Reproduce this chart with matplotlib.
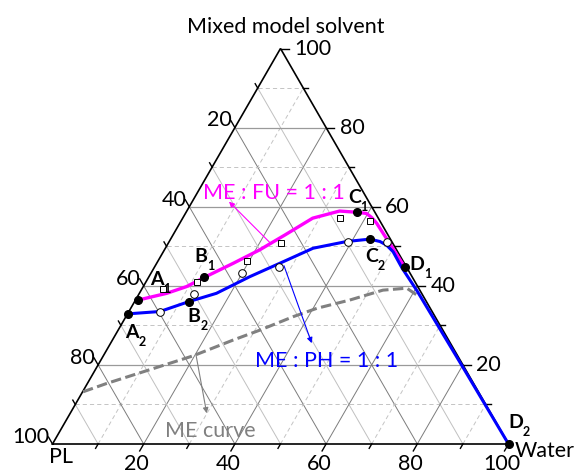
import numpy as np
import matplotlib
matplotlib.use('Agg')
import matplotlib.pyplot as plt

plt.rcParams['font.family'] = ['Lato', 'DejaVu Sans']
plt.rcParams['lines.scale_dashes'] = False

# ---- data: Water %, Mixed model solvent % (PL = 100 - Water - Mixed) ----
fu_curve_water = [0.6, 6.0, 9.5, 12.2, 16.8, 20.9, 24.5, 28.5, 33.5, 37.4, 39.7, 41.3, 43.2, 48.6, 54.9]
fu_curve_mixed = [36.4, 38.1, 39.8, 42.1, 45.7, 49.1, 52.8, 57.1, 58.9, 58.6, 58.3, 57.3, 55.8, 50.7, 44.7]

ph_curve_water = [0.0, 6.8, 11.9, 16.9, 22.1, 27.0, 32.4, 38.9, 43.7, 46.2, 48.1, 50.4, 54.4, 60.4, 80.0, 100.0]
ph_curve_mixed = [32.9, 33.5, 36.0, 38.1, 42.3, 45.7, 49.5, 51.2, 51.8, 51.2, 50.3, 48.6, 44.5, 38.9, 19.7, 0.0]

me_curve_water = [0.1, 4.2, 10.2, 19.7, 26.5, 31.1, 36.7, 40.8, 47.0, 53.0, 58.0, 61.0, 61.9]
me_curve_mixed = [13.2, 15.3, 18.0, 22.3, 26.3, 28.8, 32.2, 34.3, 36.4, 38.9, 39.4, 37.7, 36.9]

fu_exp_water = [4.7, 11.1, 19.4, 24.7, 34.4, 41.4]
fu_exp_mixed = [39.2, 41.0, 46.3, 50.9, 57.2, 56.5]
ph_exp_water = [6.9, 12.0, 19.9, 27.3, 39.2, 47.8]
ph_exp_mixed = [33.3, 37.9, 43.2, 44.8, 51.2, 51.2]

key_letters = ['A', 'B', 'C', 'D']
fu_key_water = [0.6, 12.2, 37.4, 54.9]
fu_key_mixed = [36.4, 42.1, 58.6, 44.7]
ph_key_water = [0.0, 11.9, 43.7, 100.0]
ph_key_mixed = [32.9, 36.0, 51.8, 0.0]

major_ticks = [20, 40, 60, 80, 100]
minor_ticks = [10, 30, 50, 70, 90]

S3 = np.sqrt(3) / 2


def tern(w, m):
    w = np.asarray(w, float)
    m = np.asarray(m, float)
    return w + m / 2.0, m * S3


PXU = 4.56  # pixels per data unit
X0, Y0 = 52.5, 444.0


def px(xp, yp):
    return (xp - X0) / PXU, (Y0 - yp) / PXU


fig = plt.figure(figsize=(5.76, 4.75), dpi=100)
ax = fig.add_axes([X0 / 576, (475 - Y0) / 475, 456 / 576, 395.5 / 475])
ax.set_xlim(0, 100)
ax.set_ylim(0, 100 * S3)
ax.axis('off')

# ---- grid ----
for v in range(10, 100, 10):
    major = v % 20 == 0
    x, y = tern([0, 100 - v], [v, v])
    if major:
        ax.plot(x, y, color='#9a9a9a', lw=0.9, zorder=1)
    else:
        ax.plot(x, y, color='#c4c4c4', lw=0.7, ls=(0, (3, 2.2)), zorder=1)
    x, y = tern([v, v], [0, 100 - v])
    if major:
        ax.plot(x, y, color='#7c7c7c', lw=0.7, zorder=1)
    else:
        ax.plot(x, y, color='#c4c4c4', lw=0.7, ls=(0, (3, 2.2)), zorder=1)
    x, y = tern([100 - v, 0], [0, 100 - v])
    if major:
        ax.plot(x, y, color='#7c7c7c', lw=0.7, zorder=1)
    else:
        ax.plot(x, y, color='#c0c0c0', lw=0.7, zorder=1)

# ---- triangle edges ----
x, y = tern([0, 100, 0, 0], [0, 0, 100, 0])
ax.plot(x, y, color='black', lw=1.2, zorder=2, solid_joinstyle='miter', clip_on=False)

# ---- ticks ----
def tick(w, m, dx, dy, length):
    x0, y0 = tern(w, m)
    ax.plot([x0, x0 + dx * length], [y0, y0 + dy * length], color='black',
            lw=1.0, clip_on=False, zorder=2)

for v in major_ticks + minor_ticks:
    L = (8 if v in major_ticks else 5) / PXU
    tick(v, 0, -0.5, -S3, L)           # Water (bottom)
    tick(100 - v, v, 1.0, 0.0, L)      # Mixed (right)
    tick(0, 100 - v, -0.5, S3, L)      # PL (left)

FS = 15.5
for v in major_ticks:
    ax.annotate(str(v), xy=tern(v, 0), xytext=(-7 * 0.72, -26.5 * 0.72),
                textcoords='offset points', ha='center', va='baseline',
                fontsize=FS, annotation_clip=False)
    ax.annotate(str(v), xy=tern(100 - v, v), xytext=(13.5 * 0.72, -6.3 * 0.72),
                textcoords='offset points', ha='left', va='baseline',
                fontsize=FS, annotation_clip=False)
    ax.annotate(str(v), xy=tern(0, 100 - v), xytext=(-3 * 0.72, 1.2 * 0.72),
                textcoords='offset points', ha='right', va='baseline',
                fontsize=FS, annotation_clip=False)

ax.annotate('PL', xy=tern(0, 0), xytext=(8.5 * 0.72, -19.3 * 0.72),
            textcoords='offset points', ha='center', va='baseline',
            fontsize=FS, annotation_clip=False)
ax.annotate('Water', xy=tern(100, 0), xytext=(6.2 * 0.72, -12.7 * 0.72),
            textcoords='offset points', ha='left', va='baseline',
            fontsize=FS, annotation_clip=False)
fig.text(286 / 576, 1 - 33.3 / 475, 'Mixed model solvent', ha='center',
         va='baseline', fontsize=FS)

# ---- curves ----
x, y = tern(me_curve_water, me_curve_mixed)
ax.plot(x, y, color='#808080', lw=2.2, ls=(0, (7.5, 3.2)), zorder=3,
        solid_capstyle='butt')
x, y = tern(fu_curve_water, fu_curve_mixed)
ax.plot(x, y, color='#ff00ff', lw=2.4, zorder=3, solid_capstyle='round',
        solid_joinstyle='round')
x, y = tern(ph_curve_water, ph_curve_mixed)
ax.plot(x, y, color='#0000ff', lw=2.2, zorder=3.2, solid_capstyle='round',
        solid_joinstyle='round')

# ---- experimental points ----
x, y = tern(fu_exp_water, fu_exp_mixed)
ax.plot(x, y, ls='none', marker='s', ms=4.8, mfc='white', mec='black', mew=0.7, zorder=4)
x, y = tern(ph_exp_water, ph_exp_mixed)
ax.plot(x, y, ls='none', marker='o', ms=5.5, mfc='white', mec='black', mew=0.7, zorder=4)

# ---- key points ----
x, y = tern(fu_key_water, fu_key_mixed)
ax.plot(x, y, ls='none', marker='o', ms=5.5, mfc='black', mec='black', zorder=5, clip_on=False)
x, y = tern(ph_key_water, ph_key_mixed)
ax.plot(x, y, ls='none', marker='o', ms=5.5, mfc='black', mec='black', zorder=5, clip_on=False)

fu_label_off = [(11.7, -15), (-9.3, -15.6), (-8.7, -9), (5, 3)]
ph_label_off = [(-2.3, 24.3), (-1, 20), (-5, 22.4), (-0.5, -15.7)]
letter_width = {'A': 13.0, 'B': 12.5, 'C': 12.5, 'D': 14.5}


def key_label(w, m, letter, sub, off):
    dx, dy = off
    ax.annotate(letter, xy=tern(w, m), xytext=(dx * 0.72, -dy * 0.72),
                textcoords='offset points', ha='left', va='baseline',
                fontsize=14, fontweight='bold', zorder=6, annotation_clip=False)
    ax.annotate(sub, xy=tern(w, m),
                xytext=((dx + letter_width[letter]) * 0.72, -(dy + 8.0) * 0.72),
                textcoords='offset points', ha='left', va='baseline',
                fontsize=9, fontweight='bold', zorder=6, annotation_clip=False)


for i, L in enumerate(key_letters):
    key_label(fu_key_water[i], fu_key_mixed[i], L, '1', fu_label_off[i])
    key_label(ph_key_water[i], ph_key_mixed[i], L, '2', ph_label_off[i])

# ---- annotations ----
ax.text(*px(203, 199), 'ME : FU = 1 : 1', color='#ff00ff', fontsize=FS,
        ha='left', va='baseline', zorder=6)
ax.text(*px(255, 366.7), 'ME : PH = 1 : 1', color='#0000ff', fontsize=FS,
        ha='left', va='baseline', zorder=6)
ax.text(*px(165, 436.7), 'ME curve', color='#808080', fontsize=FS,
        ha='left', va='baseline', zorder=6)

ax.annotate('', xy=px(229, 202), xytext=px(271, 244),
            arrowprops=dict(arrowstyle='-|>', color='#ff00ff', lw=0.8,
                            mutation_scale=8, shrinkA=0, shrinkB=0), zorder=6)
ax.annotate('', xy=px(311.7, 343.3), xytext=px(284, 266),
            arrowprops=dict(arrowstyle='-|>', color='#0000ff', lw=0.8,
                            mutation_scale=8, shrinkA=0, shrinkB=0), zorder=6)
ax.annotate('', xy=px(206.7, 413.3), xytext=px(196, 355),
            arrowprops=dict(arrowstyle='-|>', color='#808080', lw=0.8,
                            mutation_scale=8, shrinkA=0, shrinkB=0), zorder=6)

fig.savefig('out.png', dpi=100)
